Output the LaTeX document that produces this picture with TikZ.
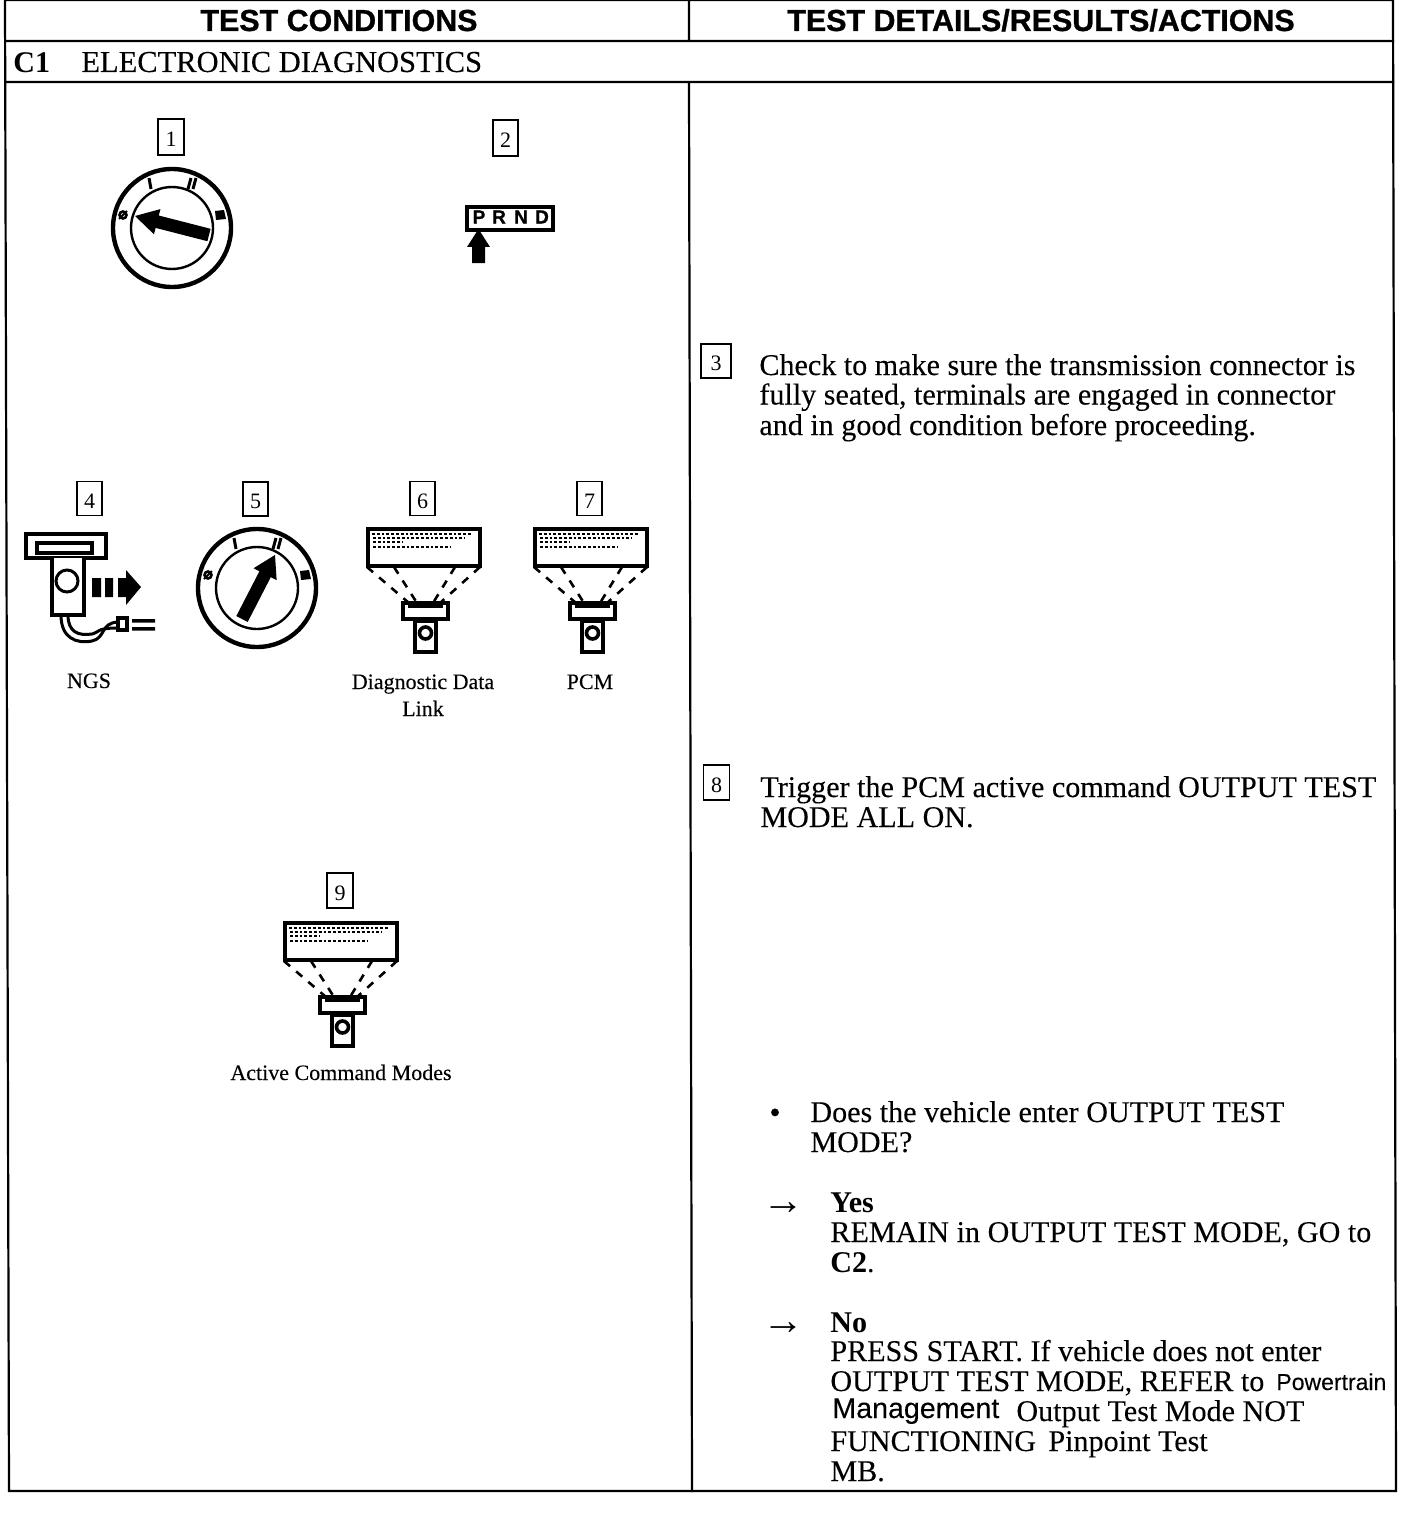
\documentclass[tikz,border=0pt]{standalone}
\usepackage{fontspec}
\setmainfont{Liberation Serif}[FakeBold=0.15]
\newfontfamily\plainserif{Liberation Serif}
\newfontfamily\hdfont{Liberation Sans Bold}[FakeBold=0.9]
\newfontfamily\sansf{Liberation Sans}[FakeBold=0.15]
\newfontfamily\bfserif{Liberation Serif Bold}
\usetikzlibrary{calc}
\tikzset{
  x=0.5pt,y=-0.5pt,
  rule/.style={line width=1.1pt,line cap=rect},
  hd/.style={inner sep=0pt,anchor=base,font=\hdfont\fontsize{15.2}{18}\selectfont},
  body/.style={inner sep=0pt,anchor=base west,font=\fontsize{15.05}{18}\selectfont},
  arrowglyph/.style={inner sep=0pt,anchor=base west,font=\plainserif\fontsize{21}{24}\selectfont},
  captext/.style={inner sep=0pt,anchor=base,font=\fontsize{11}{14}\selectfont},
  numbox/.style={draw,line width=0.9pt,inner sep=0pt,anchor=center,font=\plainserif\fontsize{11}{14}\selectfont},
  prndtext/.style={inner sep=0pt,font=\hdfont\fontsize{9.5}{10}\selectfont},
  tick/.style={line width=1.5pt},
}
\newcommand{\numlabel}[1]{\raisebox{-1.9pt}[9pt][3pt]{#1}}
\newcommand{\keyswitch}[7]{% cx cy ax ay tx ty name
  \node[circle,draw,line width=2.2pt,minimum size=59pt,inner sep=0pt] (#7) at (#1,#2) {};
  \draw[line width=1.2pt] (#1,#2) circle[radius=41];
  \draw[line width=1.3pt] ($(#1,#2)+(-49,-13)$) circle[radius=3.5];
  \draw[line width=0.9pt] ($(#1,#2)+(-53,-9)$) -- ++(8,-8);
  \draw[tick] ($(#1,#2)+(-23,-50)$) -- ++(2,11);
  \draw[tick] ($(#1,#2)+(19,-50)$) -- ++(-3,11) ($(#1,#2)+(24,-50)$) -- ++(-3,11);
  \fill ($(#1,#2)+(43,-17)$) -- ++(9,-1) -- ++(2,9) -- ++(-10,1) -- cycle;
  \coordinate (#7s) at (#3,#4);
  \coordinate (#7t) at (#5,#6);
  \coordinate (#7m) at ($(#7s)!0.7!(#7t)$);
  \fill ($(#7s)!3.2pt!90:(#7t)$) -- ($(#7m)!3.2pt!90:(#7t)$) -- ($(#7m)!6.5pt!90:(#7t)$) -- (#7t)
     -- ($(#7m)!6.5pt!-90:(#7t)$) -- ($(#7m)!3.2pt!-90:(#7t)$) -- ($(#7s)!3.2pt!-90:(#7t)$) -- cycle;
}
\newcommand{\scantool}[3]{% x y (top-left of screen) name
  \begin{scope}[shift={(#1,#2)}]
    \node[draw,line width=2pt,minimum width=56pt,minimum height=18.5pt,inner sep=0pt,anchor=north west] (#3) at (0,0) {};
    \foreach \yy/\xa/\xb in {7/6/106,11/7/99,15/7/36,20/7/84}
      \draw[line width=0.7pt,dash pattern=on 1.4pt off 1pt] (\xa,\yy) -- (\xb,\yy);
    \foreach \xa/\xb in {1/43,28/51,89/67,114/74}
      \draw[line width=1.3pt,dash pattern=on 4pt off 4pt] (\xa,40) -- (\xb,76);
    \draw[line width=2.2pt,fill=white] (37,76) rectangle (82,92);
    \fill (42,75) rectangle (77,81);
    \draw[line width=1.6pt,fill=white] (49,93) rectangle (70,125);
    \draw[line width=1.8pt] (59.5,106) circle[radius=6];
    \fill (49,92) rectangle (70,96);
  \end{scope}
}
\begin{document}
\begin{tikzpicture}
\useasboundingbox (0,0) rectangle (1408,1530);
% table
\coordinate (tl) at (5,0); \coordinate (tc) at (689,0); \coordinate (tr) at (1393,0);
\coordinate (bl) at (9,1491); \coordinate (bc) at (692,1491); \coordinate (br) at (1396,1491);
\coordinate (l41) at (6,41); \coordinate (r41) at (1393,41);
\coordinate (l82) at (6,82); \coordinate (r82) at (1393,82);
\coordinate (c41) at (689,41); \coordinate (c82) at (689,82);
\draw[rule] (tl) -- (bl) -- (br) -- (tr) -- cycle;
\draw[rule] (tc) -- (c41) (c82) -- (bc) (l41) -- (r41) (l82) -- (r82);
% headers
\node[hd] (h1) at (339,31) {TEST CONDITIONS};
\node[hd] (h2) at (1041,31) {TEST DETAILS/RESULTS/ACTIONS};
\node[body,font=\bfserif\fontsize{15}{18}\selectfont] (c1) at (13,73) {C1};
\node[body,font=\fontsize{15.25}{18}\selectfont] (c1t) at (81,72) {ELECTRONIC DIAGNOSTICS};
% number boxes
\node[numbox,minimum width=13pt,minimum height=18pt] (n1) at (171,137) {\numlabel{1}};
\node[numbox,minimum width=12.5pt,minimum height=18pt] (n2) at (505.5,138) {\numlabel{2}};
\node[numbox,minimum width=15pt,minimum height=17pt] (n3) at (716,361) {\numlabel{3}};
\node[numbox,minimum width=12.5pt,minimum height=17pt] (n4) at (89.5,498.5) {\numlabel{4}};
\node[numbox,minimum width=12.5pt,minimum height=17pt] (n5) at (255.5,499) {\numlabel{5}};
\node[numbox,minimum width=12.5pt,minimum height=17pt] (n6) at (422.5,498.5) {\numlabel{6}};
\node[numbox,minimum width=12.5pt,minimum height=17pt] (n7) at (589.5,498.5) {\numlabel{7}};
\node[numbox,minimum width=13pt,minimum height=17.5pt] (n8) at (716.5,782.5) {\numlabel{8}};
\node[numbox,minimum width=13pt,minimum height=17.5pt] (n9) at (340,890.5) {\numlabel{9}};
% key switches
\keyswitch{172}{228}{209}{235}{135}{216}{keyA}
\keyswitch{257}{588}{242}{619}{275}{555}{keyB}
% shifter
\node[draw,line width=2pt,minimum width=43pt,minimum height=11.5pt,inner sep=0pt,anchor=north west] (prnd) at (465,205) {};
\node[prndtext] (lp) at (479,217) {P};
\node[prndtext] (lr) at (499,217) {R};
\node[prndtext] (ln) at (521,217) {N};
\node[prndtext] (ld) at (542,217) {D};
\fill (478.5,229) -- (490,247) -- (485,247) -- (485,263) -- (472,263) -- (472,247) -- (467,247) -- cycle;
% NGS tester
\draw[line width=2pt] (26,534) rectangle (106,558);
\draw[line width=1.6pt] (37,543) rectangle (92,553);
\draw[line width=1.8pt,fill=white] (52,558) -- (52,615) -- (84,615) -- (84,558);
\draw[line width=1.5pt] (67,581) circle[radius=11];
\fill (92,578) rectangle (101,597) (105,578) rectangle (113,597) (118,578) rectangle (126,597);
\fill (126,570) -- (141,587) -- (126,605) -- cycle;
\draw[line width=1.5pt] (61,615) .. controls (61,638) and (76,644) .. (92,641) .. controls (106,638) and (100,623) .. (118,622);
\draw[line width=1.5pt] (68,615) .. controls (68,632) and (78,636) .. (92,634) .. controls (100,632) and (96,628) .. (118,628);
\draw[line width=1.6pt] (118,618) rectangle (127,630);
\fill (132,619) rectangle (155,622.5) (132,627) rectangle (155,630.5);
% tool screens
\scantool{366}{527}{toolA}
\scantool{533}{527}{toolB}
\scantool{283}{921}{toolC}
% captions
\node[captext] (cngs) at (89,688) {NGS};
\node[captext] (cd1) at (423,689) {Diagnostic Data};
\node[captext] (cd2) at (423,716) {Link};
\node[captext] (cpcm) at (590,689) {PCM};
\node[captext] (cacm) at (341,1080) {Active Command Modes};
% right column
\node[body] (t1) at (759,375) {Check to make sure the transmission connector is};
\node[body] (t2) at (759,404.5) {fully seated, terminals are engaged in connector};
\node[body] (t3) at (759,435) {and in good condition before proceeding.};
\node[body] (t4) at (760,797) {Trigger the PCM active command OUTPUT TEST};
\node[body] (t5) at (760,827) {MODE ALL ON.};
\node[body,font=\fontsize{16}{18}\selectfont] (bul) at (769,1123) {\textbullet};
\node[body] (t6) at (810,1122) {Does the vehicle enter OUTPUT TEST};
\node[body] (t7) at (810,1152) {MODE?};
\node[arrowglyph] (a1) at (762,1214) {→};
\node[body,font=\bfserif\fontsize{15.05}{18}\selectfont] (t8) at (830,1212) {Yes};
\node[body] (t9) at (830,1242) {REMAIN in OUTPUT TEST MODE, GO to};
\node[body] (t10) at (830,1272) {\bfserif C2\plainserif.};
\node[arrowglyph] (a2) at (762,1334) {→};
\node[body,font=\bfserif\fontsize{15.05}{18}\selectfont] (t11) at (830,1332) {No};
\node[body] (t12) at (830,1361) {PRESS START. If vehicle does not enter};
\node[body] (t13) at (830,1391) {OUTPUT TEST MODE, REFER to};
\node[body,font=\sansf\fontsize{11.5}{14}\selectfont] (t14) at (1276,1390) {Powertrain};
\node[body,font=\sansf\fontsize{14.3}{14}\selectfont] (t15) at (832,1418) {Management};
\node[body] (t16) at (1016,1421) {Output Test Mode NOT};
\node[body] (t17) at (830,1451) {FUNCTIONING};
\node[body] (t18) at (1048,1451) {Pinpoint Test};
\node[body] (t19) at (830,1481) {MB.};
\end{tikzpicture}
\end{document}
